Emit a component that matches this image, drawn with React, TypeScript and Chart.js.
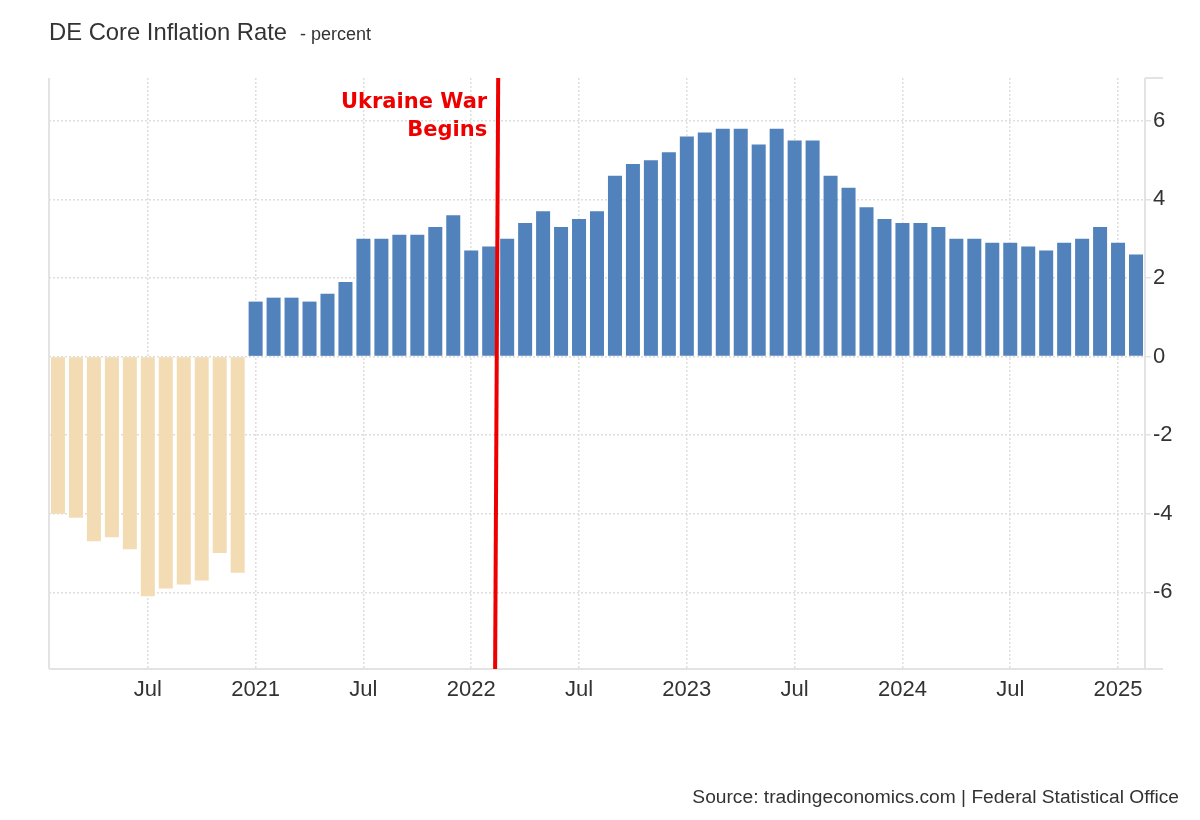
import React, { useEffect, useRef } from 'react';
import { Chart, registerables } from 'chart.js';

Chart.register(...registerables);

const categories: string[] = [
  'Feb 2020', 'Mar 2020', 'Apr 2020', 'May 2020', 'Jun 2020', 'Jul 2020', 'Aug 2020', 'Sep 2020', 'Oct 2020', 'Nov 2020', 'Dec 2020',
  'Jan 2021', 'Feb 2021', 'Mar 2021', 'Apr 2021', 'May 2021', 'Jun 2021', 'Jul 2021', 'Aug 2021', 'Sep 2021', 'Oct 2021', 'Nov 2021', 'Dec 2021',
  'Jan 2022', 'Feb 2022', 'Mar 2022', 'Apr 2022', 'May 2022', 'Jun 2022', 'Jul 2022', 'Aug 2022', 'Sep 2022', 'Oct 2022', 'Nov 2022', 'Dec 2022',
  'Jan 2023', 'Feb 2023', 'Mar 2023', 'Apr 2023', 'May 2023', 'Jun 2023', 'Jul 2023', 'Aug 2023', 'Sep 2023', 'Oct 2023', 'Nov 2023', 'Dec 2023',
  'Jan 2024', 'Feb 2024', 'Mar 2024', 'Apr 2024', 'May 2024', 'Jun 2024', 'Jul 2024', 'Aug 2024', 'Sep 2024', 'Oct 2024', 'Nov 2024', 'Dec 2024',
  'Jan 2025', 'Feb 2025',
];

const coreInflation: number[] = [
  -4.0, -4.1, -4.7, -4.6, -4.9, -6.1, -5.9, -5.8, -5.7, -5.0, -5.5,
  1.4, 1.5, 1.5, 1.4, 1.6, 1.9, 3.0, 3.0, 3.1, 3.1, 3.3, 3.6,
  2.7, 2.8, 3.0, 3.4, 3.7, 3.3, 3.5, 3.7, 4.6, 4.9, 5.0, 5.2,
  5.6, 5.7, 5.8, 5.8, 5.4, 5.8, 5.5, 5.5, 4.6, 4.3, 3.8, 3.5,
  3.4, 3.4, 3.3, 3.0, 3.0, 2.9, 2.9, 2.8, 2.7, 2.9, 3.0, 3.3,
  2.9, 2.6,
];

const yTickValues: number[] = [-6, -4, -2, 0, 2, 4, 6];
const yMin = -7.95;
const yMax = 7.09;

const titleMain = 'DE Core Inflation Rate';
const titleUnit = '- percent';
const sourceText = 'Source: tradingeconomics.com | Federal Statistical Office';
const annotationLines: string[] = ['Ukraine War', 'Begins'];
// position of the event line on the month axis (fractional category index), top and bottom
const warLineTopIndex = 24.5;
const warLineBottomIndex = 24.33;

const POS_COLOR = '#5282bb';
const NEG_COLOR = '#f3dcb3';
const GRID_COLOR = '#dedede';
const AXIS_COLOR = '#e3e3e3';
const TEXT_COLOR = '#333333';
const RED = '#ee0000';
const FONT = '"Liberation Sans", Arial, sans-serif';

function tickLabel(label: string): string {
  const [m, y] = label.split(' ');
  if (m === 'Jan') return y;
  if (m === 'Jul') return 'Jul';
  return '';
}

const overlayPlugin = {
  id: 'overlay',
  afterDraw(chart: any) {
    const { ctx, chartArea: a, scales } = chart;
    const xs = scales.x;
    ctx.save();
    // axis lines
    ctx.strokeStyle = AXIS_COLOR;
    ctx.lineWidth = 2;
    ctx.setLineDash([]);
    ctx.beginPath();
    ctx.moveTo(a.left, a.top);
    ctx.lineTo(a.left, a.bottom);
    ctx.moveTo(a.left, a.bottom);
    ctx.lineTo(a.right + 18, a.bottom);
    ctx.moveTo(a.right, a.top);
    ctx.lineTo(a.right, a.bottom + 1);
    ctx.moveTo(a.right, a.top);
    ctx.lineTo(a.right + 18, a.top);
    ctx.stroke();

    // event line
    const xt = xs.getPixelForValue(warLineTopIndex);
    const xb = xs.getPixelForValue(warLineBottomIndex);
    ctx.strokeStyle = RED;
    ctx.lineWidth = 4;
    ctx.beginPath();
    ctx.moveTo(xt, a.top);
    ctx.lineTo(xb, a.bottom);
    ctx.stroke();

    ctx.fillStyle = RED;
    ctx.font = 'bold 21px "DejaVu Sans", sans-serif';
    ctx.textAlign = 'right';
    ctx.textBaseline = 'alphabetic';
    ctx.fillText(annotationLines[0], xt - 11, a.top + 30);
    ctx.fillText(annotationLines[1], xt - 11, a.top + 57.5);

    // title
    ctx.fillStyle = TEXT_COLOR;
    ctx.textAlign = 'left';
    ctx.font = `23.8px ${FONT}`;
    ctx.fillText(titleMain, 41, 32);
    const w = ctx.measureText(titleMain).width;
    ctx.font = `18px ${FONT}`;
    ctx.fillText(titleUnit, 41 + w + 13, 32);

    // source
    ctx.font = `19.2px ${FONT}`;
    ctx.textAlign = 'right';
    ctx.fillText(sourceText, 1171, 795);
    ctx.restore();
  },
};

export default function App() {
  const canvasRef = useRef<HTMLCanvasElement | null>(null);

  useEffect(() => {
    if (!canvasRef.current) return;
    Chart.defaults.font.family = FONT;
    const chart = new Chart(canvasRef.current, {
      type: 'bar',
      data: {
        labels: categories,
        datasets: [
          {
            data: coreInflation,
            backgroundColor: coreInflation.map((v) => (v < 0 ? NEG_COLOR : POS_COLOR)),
            barPercentage: 0.78,
            categoryPercentage: 1,
            borderWidth: 0,
          },
        ],
      },
      options: {
        responsive: false,
        animation: false,
        devicePixelRatio: 1,
        layout: { padding: { left: 41, right: 0, top: 70, bottom: 103 } },
        plugins: {
          legend: { display: false },
          tooltip: { enabled: false },
          title: { display: false },
        },
        scales: {
          x: {
            offset: true,
            grid: {
              offset: false,
              drawTicks: false,
              lineWidth: 1.5,
              color: (c: any) => (tickLabel(categories[c.index] || '') !== '' ? GRID_COLOR : 'rgba(0,0,0,0)'),
            },
            border: { display: false, dash: [2, 2] },
            ticks: {
              autoSkip: false,
              maxRotation: 0,
              minRotation: 0,
              padding: 8,
              color: TEXT_COLOR,
              font: { size: 22, family: FONT },
              callback: (_v: any, i: number) => tickLabel(categories[i]),
            },
            afterFit: (s: any) => {
              s.height = 40;
            },
          },
          y: {
            position: 'right',
            min: yMin,
            max: yMax,
            afterBuildTicks: (s: any) => {
              s.ticks = yTickValues.map((v) => ({ value: v }));
            },
            afterFit: (s: any) => {
              s.width = 47;
            },
            grid: {
              color: GRID_COLOR,
              lineWidth: 1.5,
              drawTicks: true,
              tickLength: 6,
              tickColor: AXIS_COLOR,
              tickBorderDash: [],
              tickWidth: 1.5,
            },
            border: { display: false, dash: [2, 2] },
            ticks: {
              padding: 2,
              color: TEXT_COLOR,
              font: { size: 22, family: FONT },
              callback: (v: any) => String(v),
            },
          },
        },
      },
      plugins: [overlayPlugin],
    });
    return () => chart.destroy();
  }, []);

  return (
    <div style={{ width: 1184, height: 804 }}>
      <canvas ref={canvasRef} width={1184} height={804} style={{ display: 'block' }} />
    </div>
  );
}
